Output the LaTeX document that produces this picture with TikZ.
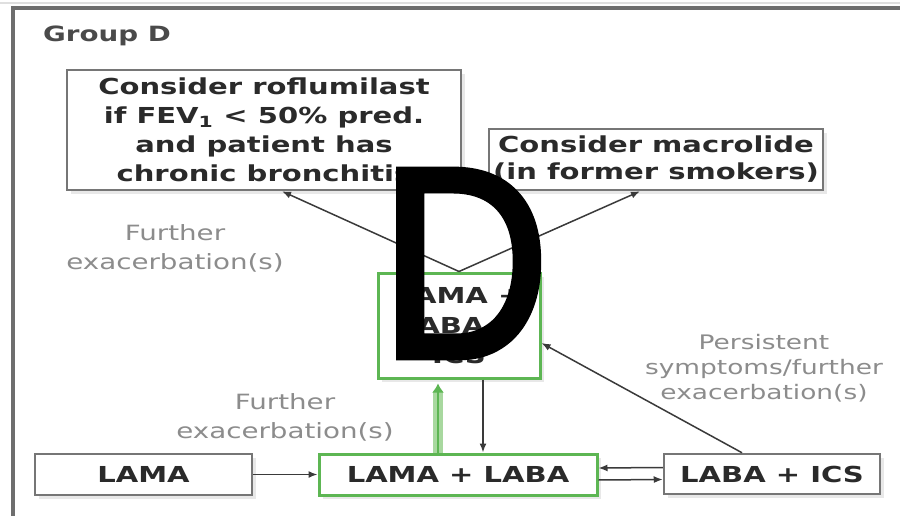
\documentclass[tikz,border=0pt]{standalone}
\usepackage{fontspec}
\setmainfont{DejaVu Sans}[FakeStretch=1.32]
\newfontfamily\dfont{Liberation Sans}[FakeStretch=0.86, FakeBold=2.4]
\usetikzlibrary{arrows.meta,shadows}
\definecolor{framec}{HTML}{6E6E6E}
\definecolor{bordergray}{HTML}{767676}
\definecolor{boxgreen}{HTML}{5DB653}
\definecolor{lightgreen}{HTML}{A8D89F}
\definecolor{labelgray}{HTML}{8C8C8C}
\definecolor{ink}{HTML}{2A2A2A}
\definecolor{arrowc}{HTML}{3A3A3A}
\begin{document}
\begin{tikzpicture}[x=1pt,y=-1pt,
  box/.style={draw=bordergray, line width=2.5pt, fill=white, text=ink,
    font=\bfseries\fontsize{22}{29}\selectfont, align=center, inner sep=0pt,
    drop shadow={shadow xshift=4pt,shadow yshift=-4pt,opacity=0.18}},
  gbox/.style={box, draw=boxgreen, line width=3pt},
  lbl/.style={text=labelgray, font=\fontsize{21}{29}\selectfont, align=center, inner sep=0pt},
  conn/.style={draw=arrowc, line width=1.5pt, -{Latex[length=9pt,width=7pt]}},
]
\useasboundingbox (0,0) rectangle (900,516);
\clip (0,0) rectangle (900,516);
\fill[white] (0,0) rectangle (900,516);
% frame
\draw[gray!25, line width=1.5pt] (0,3) -- (900,3);
\draw[framec, line width=3.5pt] (13,8) rectangle (930,560);

\node[anchor=west, text=ink!85, font=\bfseries\fontsize{21}{25}\selectfont, inner sep=0pt] (title) at (43,36) {Group D};

% boxes
\node[box, minimum width=394pt, minimum height=120pt] (rofl) at (264,130)
  {Consider roflumilast\\if FEV\textsubscript{1} < 50\% pred.\\and patient has\\chronic bronchitis};
\node[box, minimum width=334pt, minimum height=61pt, font=\bfseries\fontsize{22}{27}\selectfont] (macro) at (656,159.5)
  {Consider macrolide\\(in former smokers)};
\node[gbox, minimum width=162pt, minimum height=105pt, font=\bfseries\fontsize{22}{30}\selectfont] (triple) at (459,325.5)
  {LAMA +\\LABA +\\ICS};
\node[box, minimum width=217pt, minimum height=41pt] (lama) at (143.5,474.5) {LAMA};
\node[gbox, minimum width=278pt, minimum height=41pt] (ll) at (458,474.5) {LAMA + LABA};
\node[box, minimum width=216pt, minimum height=40pt] (lics) at (772,474) {LABA + ICS};

% labels
\node[lbl] (lblA) at (175,248) {Further\\exacerbation(s)};
\node[lbl] (lblB) at (285,417) {Further\\exacerbation(s)};
\node[lbl, font=\fontsize{20}{25}\selectfont] (lblC) at (764,368) {Persistent\\symptoms/further\\exacerbation(s)};

% connectors
\draw[conn] (triple.north) -- ([xshift=18pt]rofl.south);
\draw[conn] (triple.north) -- ([xshift=-16pt]macro.south);
\draw[conn] (lama.east) -- (ll.west);
\draw[conn] ([yshift=6.5pt]lics.west) -- ([yshift=6.5pt]ll.east);
\draw[conn] ([yshift=-5.5pt]ll.east) -- ([yshift=-5.5pt]lics.west);
\draw[conn] ([xshift=-30pt]lics.north) -- ([yshift=-17.5pt]triple.east);
\draw[conn] ([xshift=24pt]triple.south) -- ([xshift=25pt]ll.north);
\draw[lightgreen, line width=10pt] ([xshift=-20pt]ll.north) -- ([xshift=-21pt,yshift=-12pt]triple.south);
\draw[boxgreen, line width=2.5pt, -{Latex[length=9pt,width=12pt]}] ([xshift=-20pt]ll.north) -- ([xshift=-21pt,yshift=-4pt]triple.south);

% overlay letter
\node[anchor=base west, inner sep=0pt, text=black, font=\dfont\fontsize{272}{272}\selectfont] (bigD) at (380,357) {D};
\end{tikzpicture}
\end{document}
